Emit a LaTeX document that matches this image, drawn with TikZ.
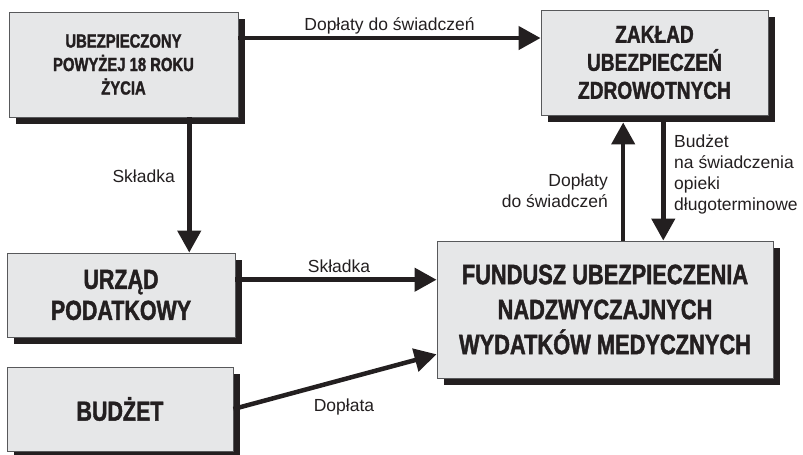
\documentclass[tikz,border=0pt]{standalone}
\usepackage{fontspec}
\setmainfont{Liberation Sans}
\newfontfamily\condfont{Liberation Sans}[FakeStretch=0.78,BoldFeatures={FakeBold=1.5}]
\usetikzlibrary{arrows.meta,calc,shadows}
\definecolor{boxgray}{RGB}{230,231,232}
\definecolor{ink}{RGB}{35,31,32}
\definecolor{rim}{RGB}{88,89,91}
\begin{document}
\begin{tikzpicture}[x=1pt,y=-1pt,
    box/.style 2 args={draw=rim, fill=boxgray, line width=0.9pt, text=ink,
        align=center, inner sep=0pt,
        font=\condfont\bfseries\fontsize{#1}{#2}\selectfont,
        drop shadow={shadow xshift=7pt, shadow yshift=-7pt, fill=ink, opacity=1}},
    flow/.style={draw=ink, line width=4.5pt, -{Triangle[length=22pt,width=23pt]}},
    lbl/.style={text=ink, inner sep=0pt, font=\fontsize{17.5}{21}\selectfont}]
    \useasboundingbox (0,0) rectangle (803,455);
    % boxes
    \node[box={19}{23.5}, minimum width=229pt, minimum height=105pt] (ubez) at (123.5,64.5)
        {UBEZPIECZONY\\POWYŻEJ 18 ROKU\\ŻYCIA};
    \node[box={24.5}{28}, minimum width=227pt, minimum height=105pt] (zaklad) at (654.5,62.5)
        {ZAKŁAD\\UBEZPIECZEŃ\\ZDROWOTNYCH};
    \node[box={27.5}{31}, minimum width=228pt, minimum height=84pt] (urzad) at (121,295)
        {URZĄD\\PODATKOWY};
    \node[box={27.5}{31}, minimum width=226pt, minimum height=84pt] (budzet) at (120,409)
        {BUDŻET};
    \node[box={28}{35}, minimum width=336pt, minimum height=137pt] (fundusz) at (605,309.5)
        {FUNDUSZ UBEZPIECZENIA\\NADZWYCZAJNYCH\\WYDATKÓW MEDYCZNYCH};
    % flows
    \coordinate (s1) at ($(ubez.north east)!.25!(ubez.south east)$);
    \draw[flow] (s1) -- (s1 -| zaklad.west);
    \coordinate (s2) at ($(ubez.south west)!.786!(ubez.south east)$);
    \draw[flow] (s2) -- (s2 |- urzad.north);
    \coordinate (s3) at ($(fundusz.north west)!.554!(fundusz.north east)$);
    \draw[flow] (s3) -- ([yshift=-7pt]s3 |- zaklad.south);
    \coordinate (s4) at ($(fundusz.north west)!.673!(fundusz.north east)$);
    \draw[flow] ([yshift=-7pt]s4 |- zaklad.south) -- (s4);
    \coordinate (s5) at ($(urzad.north east)!.32!(urzad.south east)$);
    \draw[flow] (s5) -- (s5 -| fundusz.west);
    \draw[flow] (budzet.east) -- ($(fundusz.north west)!.825!(fundusz.south west)$);
    % labels (base of a multi-line label = its last line)
    \node[lbl, anchor=base] (l1) at (389.5,30) {Dopłaty do świadczeń};
    \node[lbl, anchor=base east] (l2) at (175,182) {Składka};
    \node[lbl, anchor=base east, align=right] (l3) at (608,207) {Dopłaty\\do świadczeń};
    \node[lbl, anchor=base west, align=left] (l4) at (674,210)
        {Budżet\\na świadczenia\\opieki\\długoterminowe};
    \node[lbl, anchor=base] (l5) at (339,272) {Składka};
    \node[lbl, anchor=base] (l6) at (344,411) {Dopłata};
\end{tikzpicture}
\end{document}
